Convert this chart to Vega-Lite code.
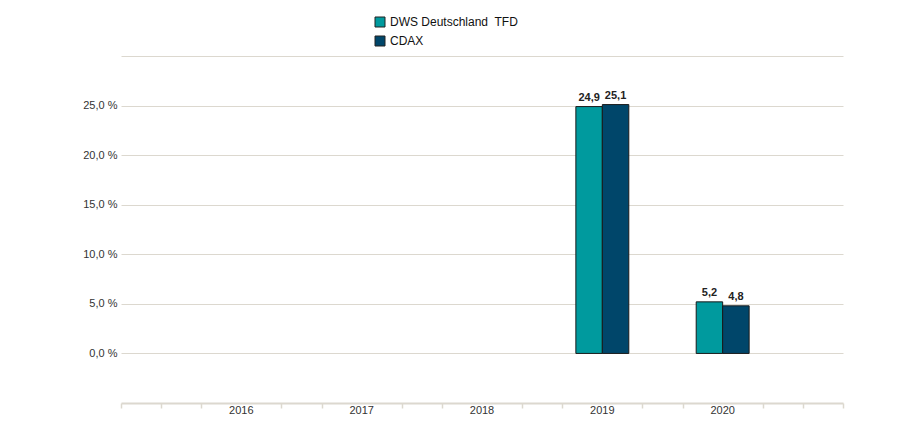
{
  "$schema": "https://vega.github.io/schema/vega-lite/v6.json",
  "width": 722,
  "height": 347,
  "autosize": "none",
  "padding": {"left": 121, "top": 56, "right": 57, "bottom": 27},
  "config": {
    "locale": {"number": {"decimal": ",", "thousands": ".", "grouping": [3], "currency": ["", " €"]}},
    "font": "Liberation Sans",
    "view": {"stroke": null}
  },
  "data": {
    "values": [
      {"year": "2019", "series": "DWS Deutschland\u00a0 TFD", "value": 24.9},
      {"year": "2019", "series": "CDAX", "value": 25.1},
      {"year": "2020", "series": "DWS Deutschland\u00a0 TFD", "value": 5.2},
      {"year": "2020", "series": "CDAX", "value": 4.8}
    ]
  },
  "layer": [
    {
      "encoding": {
        "x": {
          "field": "year",
          "type": "nominal",
          "scale": {"domain": ["2016", "2017", "2018", "2019", "2020"], "paddingInner": 0.56, "paddingOuter": 0.78},
          "axis": {"title": null, "ticks": false, "labelAngle": 0, "labelPadding": 1, "domainColor": "#dcd8cf", "domainWidth": 2, "labelFontSize": 11, "labelColor": "#333333"}
        },
        "xOffset": {
          "field": "series",
          "type": "nominal",
          "scale": {"domain": ["DWS Deutschland\u00a0 TFD", "CDAX"], "paddingOuter": 0, "paddingInner": 0}
        },
        "y": {
          "field": "value",
          "type": "quantitative",
          "scale": {"domain": [-5, 30], "nice": false},
          "axis": {
            "title": null,
            "values": [0, 5, 10, 15, 20, 25, 30],
            "format": ".1f",
            "labelExpr": "datum.value >= 30 ? '' : datum.label + ' %'",
            "domain": false,
            "ticks": false,
            "gridColor": "#dcd8cf",
            "labelPadding": 4,
            "labelFontSize": 11,
            "labelColor": "#333333"
          }
        }
      },
      "layer": [
        {
          "mark": {"type": "bar", "stroke": "#1a1a1a", "strokeWidth": 1},
          "encoding": {
            "color": {
              "field": "series",
              "type": "nominal",
              "scale": {"domain": ["DWS Deutschland\u00a0 TFD", "CDAX"], "range": ["#009a9e", "#00466a"]},
              "legend": {
                "title": null,
                "orient": "none",
                "legendX": 253,
                "legendY": -40,
                "direction": "vertical",
                "symbolType": "square",
                "symbolSize": 100,
                "symbolStrokeColor": "#222222",
                "symbolStrokeWidth": 1,
                "symbolOpacity": 1,
                "labelFontSize": 12,
                "labelColor": "#111111",
                "labelOffset": 4,
                "rowPadding": 5
              }
            }
          }
        },
        {
          "mark": {"type": "text", "baseline": "bottom", "dy": -4, "fontSize": 11, "fontWeight": "bold", "color": "#222222"},
          "encoding": {
            "text": {"field": "value", "type": "quantitative", "format": ".1f"}
          }
        }
      ]
    },
    {
      "mark": {"type": "rule", "opacity": 0},
      "encoding": {
        "x": {
          "datum": 0,
          "type": "quantitative",
          "scale": {"domain": [0, 18], "nice": false, "zero": false},
          "axis": {"orient": "bottom", "title": null, "values": [0, 1, 2, 4, 5, 7, 8, 10, 11, 13, 14, 16, 17, 18], "labels": false, "grid": false, "domain": false, "tickColor": "#dcd8cf", "tickSize": 5, "tickWidth": 1.5}
        }
      }
    }
  ],
  "resolve": {"scale": {"x": "independent"}}
}
